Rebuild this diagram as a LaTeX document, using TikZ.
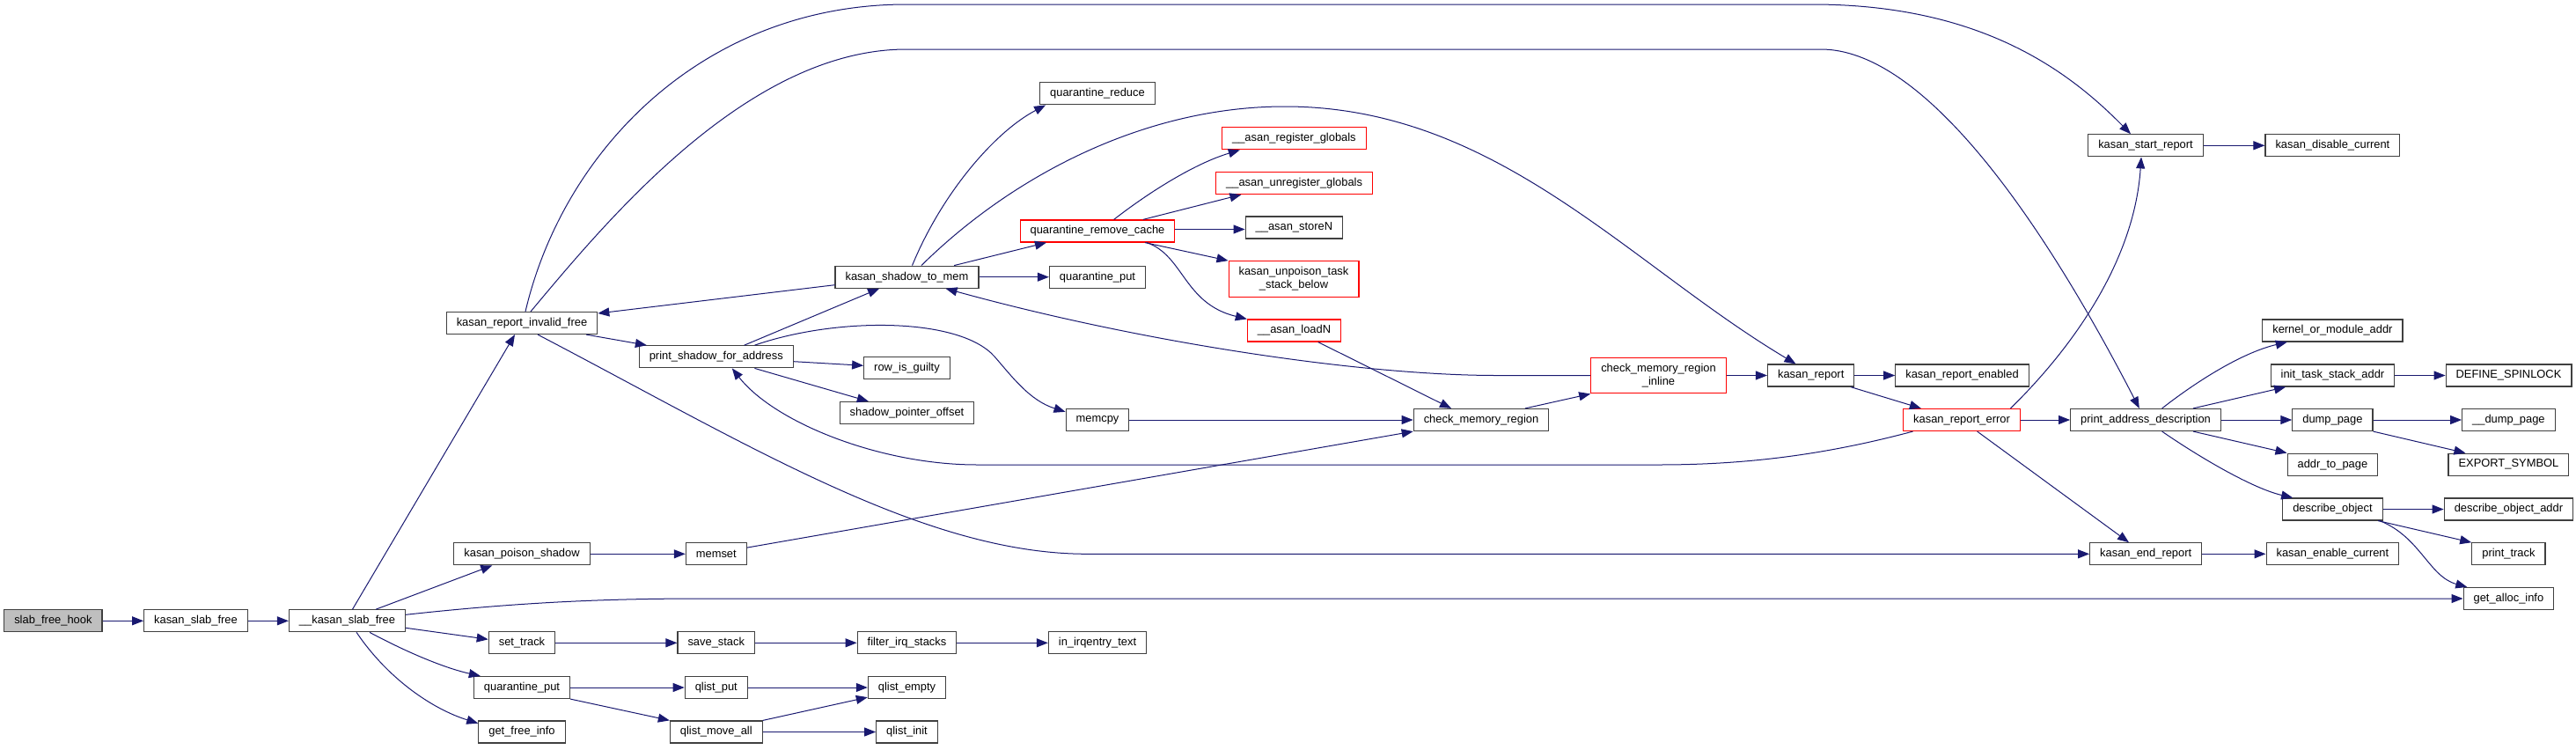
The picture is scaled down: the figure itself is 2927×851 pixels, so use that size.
\documentclass[tikz,border=0pt]{standalone}
\usepackage{fontspec}
\setmainfont{Liberation Sans}
\usetikzlibrary{arrows.meta,calc}
\definecolor{edgeblue}{HTML}{191970}
\definecolor{rootgray}{HTML}{BFBFBF}
\definecolor{boxline}{HTML}{404040}
\definecolor{redline}{HTML}{FF0000}
\begin{document}
\begin{tikzpicture}[x=0.5pt,y=-0.5pt,
 fn/.style={draw=boxline, line width=0.6pt, fill=white, inner xsep=5.75pt, inner ysep=0pt,
   minimum height=12.5pt, font=\fontsize{6.45}{7.4}\selectfont, text=black},
 redfn/.style={fn, draw=redline},
 two/.style={align=center, minimum height=20.3pt},
 e/.style={draw=edgeblue, line width=0.5pt, -{Triangle[length=6.5pt,width=5pt]}},
]
\useasboundingbox (0,0) rectangle (2927,851);
% nodes
\node[fn,fill=rootgray] (sfh) at (60.4,705.3) {slab\_free\_hook};
\node[fn] (ksf) at (222.5,705.3) {kasan\_slab\_free};
\node[fn] (uksf) at (394.5,705.3) {\_\_kasan\_slab\_free};
\node[fn] (krif) at (593,367) {kasan\_report\_invalid\_free};
\node[fn] (kps) at (593,629.3) {kasan\_poison\_shadow};
\node[fn] (st) at (593,730.3) {set\_track};
\node[fn] (qp2) at (593,781) {quarantine\_put};
\node[fn] (gfi) at (593,831.5) {get\_free\_info};
\node[fn] (psfa) at (813.8,405.3) {print\_shadow\_for\_address};
\node[fn] (mset) at (813.8,629.3) {memset};
\node[fn] (ss) at (813.8,730.3) {save\_stack};
\node[fn] (qlp) at (813.8,781) {qlist\_put};
\node[fn] (qlma) at (813.8,831.5) {qlist\_move\_all};
\node[fn] (kstm) at (1030.5,314.7) {kasan\_shadow\_to\_mem};
\node[fn] (rig) at (1030.5,418.3) {row\_is\_guilty};
\node[fn] (spo) at (1030.5,469) {shadow\_pointer\_offset};
\node[fn] (fis) at (1030.5,730.3) {filter\_irq\_stacks};
\node[fn] (qle) at (1030.5,781) {qlist\_empty};
\node[fn] (qli) at (1030.5,831.5) {qlist\_init};
\node[fn] (qr) at (1247,106.3) {quarantine\_reduce};
\node[redfn] (qrc) at (1247,262.5) {quarantine\_remove\_cache};
\node[fn] (qp1) at (1247,314.7) {quarantine\_put};
\node[fn] (mcpy) at (1247,477) {memcpy};
\node[fn] (iit) at (1247,730.3) {in\_irqentry\_text};
\node[redfn] (arg) at (1470.4,157.3) {\_\_asan\_register\_globals};
\node[redfn] (aug) at (1470.6,208) {\_\_asan\_unregister\_globals};
\node[fn] (asn) at (1470.4,258.5) {\_\_asan\_storeN};
\node[redfn,two] (kutsb) at (1470,317) {kasan\_unpoison\_task\\\_stack\_below};
\node[redfn] (aln) at (1470.5,375.5) {\_\_asan\_loadN};
\node[fn] (cmr) at (1683,477) {check\_memory\_region};
\node[redfn,two] (cmri) at (1884.5,426.5) {check\_memory\_region\\\_inline};
\node[fn] (kr) at (2057.7,426.5) {kasan\_report};
\node[fn] (kre) at (2229.5,426.5) {kasan\_report\_enabled};
\node[redfn] (krerr) at (2229,477) {kasan\_report\_error};
\node[fn] (ksr) at (2438,165.3) {kasan\_start\_report};
\node[fn] (pad) at (2438,477) {print\_address\_description};
\node[fn] (ker) at (2438.2,629.3) {kasan\_end\_report};
\node[fn] (kdc) at (2650.4,165.3) {kasan\_disable\_current};
\node[fn] (koma) at (2650.4,375.5) {kernel\_or\_module\_addr};
\node[fn] (itsa) at (2650.4,426.5) {init\_task\_stack\_addr};
\node[fn] (dp) at (2650.4,477) {dump\_page};
\node[fn] (atp) at (2650.4,527.7) {addr\_to\_page};
\node[fn] (dob) at (2650.4,578.5) {describe\_object};
\node[fn] (kec) at (2650.4,629.3) {kasan\_enable\_current};
\node[fn] (dsl) at (2850.5,426.5) {DEFINE\_SPINLOCK};
\node[fn] (udp) at (2850.4,477) {\_\_dump\_page};
\node[fn] (exs) at (2850.4,527.7) {EXPORT\_SYMBOL};
\node[fn] (doa) at (2850.4,578.5) {describe\_object\_addr};
\node[fn] (prt) at (2850.4,629.3) {print\_track};
\node[fn] (gai) at (2850.4,680) {get\_alloc\_info};
% edges
\draw[e] (sfh.east) -- (ksf.west);
\draw[e] (ksf.east) -- (uksf.west);
\draw[e] ([xshift=3pt]uksf.north) -- ([xshift=-4pt]krif.south);
\draw[e] ([xshift=16.3pt]uksf.north) -- ([xshift=22pt]kps.south west);
\draw[e] ([yshift=3.5pt]uksf.east) .. controls (600,683) and (700,680) .. (800,680) -- (gai.west);
\draw[e] ([yshift=-4pt]uksf.east) -- ([yshift=2pt]st.west);
\draw[e] ([xshift=12.8pt]uksf.south) .. controls (470,745) and (510,760) .. ([xshift=4pt]qp2.north west);
\draw[e] ([xshift=5.3pt]uksf.south) .. controls (440,770) and (490,805) .. ([yshift=4.9pt]gfi.west);
\draw[e] ([xshift=-6.6pt]krif.south east) -- ([xshift=4.6pt]psfa.north west);
\draw[e] ([xshift=2pt]krif.north) .. controls (640,170) and (800,5) .. (1030,5) -- (2059,5) .. controls (2250,5) and (2350,80) .. ([xshift=-8.5pt]ksr.north);
\draw[e] ([xshift=5pt]krif.north) .. controls (690,250) and (850,56) .. (1030,56) -- (2069,56) .. controls (2180,56) and (2310,230) .. ([xshift=-3.6pt]pad.north);
\draw[e] ([xshift=9pt]krif.south) .. controls (850,505) and (1050,629.3) .. (1235,629.3) -- (ker.west);
\draw[e] ([xshift=15.9pt]psfa.north) -- ([xshift=-15.7pt]kstm.south);
\draw[e] ([yshift=-2.7pt]psfa.east) -- ([yshift=1.5pt]rig.west);
\draw[e] ([xshift=21.8pt]psfa.south) -- ([xshift=16.6pt]spo.north west);
\draw[e] ([xshift=21.8pt]psfa.north) .. controls (950,360) and (1090,360) .. (1130,405) .. controls (1150,428) and (1170,455) .. ([yshift=4.6pt]mcpy.west);
\draw[e] ([yshift=-4.5pt]kstm.west) -- ([yshift=5.5pt]krif.east);
\draw[e] ([xshift=3pt]kstm.north) .. controls (1070,220) and (1130,150) .. ([xshift=3.5pt]qr.south west);
\draw[e] ([xshift=8.2pt]kstm.north) .. controls (1150,200) and (1300,121) .. (1460,121) .. controls (1700,121) and (1850,300) .. ([xshift=-8.6pt]kr.north);
\draw[e] ([xshift=26.8pt]kstm.north) -- ([xshift=15.2pt]qrc.south west);
\draw[e] (kstm.east) -- (qp1.west);
\draw[e] (cmri.west) -- (1700,426.5) .. controls (1550,426.5) and (1300,390) .. ([xshift=22pt]kstm.south);
\draw[e] ([xshift=9.3pt]qrc.north) .. controls (1310,215) and (1360,185) .. ([xshift=10.4pt]arg.south west);
\draw[e] ([xshift=25.9pt]qrc.north) -- ([xshift=14.7pt]aug.south west);
\draw[e] ([yshift=1pt]qrc.east) -- ([yshift=-1pt]asn.west);
\draw[e] ([xshift=27pt]qrc.south) -- (kutsb.north west);
\draw[e] ([xshift=28pt]qrc.south) .. controls (1345,290) and (1345,345) .. (aln.north west);
\draw[e] ([xshift=13.6pt]aln.south) -- ([xshift=-17pt]cmr.north);
\draw[e] (mcpy.east) -- (cmr.west);
\draw[e] ([yshift=3.6pt]mset.east) -- (cmr.south west);
\draw[e] ([xshift=25pt]cmr.north) -- (cmri.south west);
\draw[e] (cmri.east) -- (kr.west);
\draw[e] (kr.east) -- (kre.west);
\draw[e] ([xshift=-2.3pt]kr.south east) -- ([xshift=10.4pt]krerr.north west);
\draw[e] ([xshift=5.7pt]krerr.south west) .. controls (2080,515) and (1990,528) .. (1885,528) -- (1110,528) .. controls (1000,528) and (880,480) .. ([xshift=9pt]psfa.south);
\draw[e] ([xshift=27.7pt]krerr.north) .. controls (2350,400) and (2425,300) .. ([xshift=-2.5pt]ksr.south);
\draw[e] (krerr.east) -- (pad.west);
\draw[e] ([xshift=8.8pt]krerr.south) -- ([xshift=-9.6pt]ker.north);
\draw[e] (ksr.east) -- (kdc.west);
\draw[e] ([xshift=9.3pt]pad.north) .. controls (2500,430) and (2550,400) .. ([xshift=14.3pt]koma.south west);
\draw[e] ([xshift=27pt]pad.north) -- ([xshift=8.8pt]itsa.south west);
\draw[e] (pad.east) -- (dp.west);
\draw[e] ([xshift=27pt]pad.south) -- (atp.north west);
\draw[e] ([xshift=9.3pt]pad.south) .. controls (2500,520) and (2560,555) .. ([xshift=6pt]dob.north west);
\draw[e] (itsa.east) -- (dsl.west);
\draw[e] (dp.east) -- (udp.west);
\draw[e] (dp.south east) -- ([xshift=10pt]exs.north west);
\draw[e] (dob.east) -- (doa.west);
\draw[e] ([xshift=-2.8pt]dob.south east) -- (prt.north west);
\draw[e] ([xshift=-1.8pt]dob.south east) .. controls (2750,610) and (2760,655) .. ([xshift=2.4pt]gai.north west);
\draw[e] (ker.east) -- (kec.west);
\draw[e] (kps.east) -- (mset.west);
\draw[e] (st.east) -- (ss.west);
\draw[e] (ss.east) -- (fis.west);
\draw[e] (fis.east) -- (iit.west);
\draw[e] (qp2.east) -- (qlp.west);
\draw[e] (qp2.south east) -- (qlma.north west);
\draw[e] (qlp.east) -- (qle.west);
\draw[e] (qlma.north east) -- ([yshift=1pt]qle.south west);
\draw[e] (qlma.east) -- (qli.west);
\end{tikzpicture}
\end{document}
